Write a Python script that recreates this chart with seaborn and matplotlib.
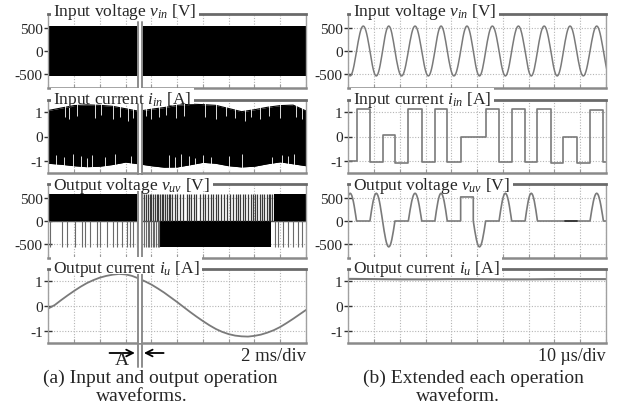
import numpy as np
import matplotlib
matplotlib.use("Agg")
import matplotlib.pyplot as plt
import matplotlib.transforms as mtransforms
from matplotlib.lines import Line2D
from matplotlib.patches import Rectangle
import seaborn as sns

sns.set_style("white")
plt.rcParams["font.family"] = ["Liberation Serif", "DejaVu Serif"]
plt.rcParams["mathtext.fontset"] = "custom"
plt.rcParams["mathtext.rm"] = "Liberation Serif"
plt.rcParams["mathtext.it"] = "Liberation Serif:italic"

# ---------------- data ----------------
panel_titles = [r"Input voltage $v_{in}$ [V]", r"Input current $i_{in}$ [A]",
                r"Output voltage $v_{uv}$ [V]", r"Output current $i_u$ [A]"]
volt_ticks = [-500, 0, 500]
curr_ticks = [-1, 0, 1]
volt_tick_labels = ["-500", "0", "500"]
curr_tick_labels = ["-1", "0", "1"]

# (a) left column, time in ms (2 ms/div)
vin_left_peak_v = 540
vin_left_trough_v = -535
iin_left_t_ms = [0, 1, 2, 3, 4, 5, 6, 7, 8, 9, 10, 11, 12, 13, 14, 15, 16, 17, 18, 19, 20]
iin_left_top = [1.07, 1.17, 1.27, 1.30, 1.28, 1.24, 1.14, 1.04, 1.12, 1.19, 1.28,
                1.33, 1.31, 1.28, 1.15, 1.02, 1.10, 1.20, 1.27, 1.29, 1.05]
iin_left_bottom = [-1.10, -1.14, -1.20, -1.24, -1.22, -1.15, -1.05, -1.12, -1.20, -1.26, -1.25,
                   -1.16, -1.06, -1.10, -1.20, -1.25, -1.22, -1.12, -1.04, -1.12, -1.20]
iin_left_gaps_top_ms = [1.3, 1.6, 2.2, 3.6, 4.1, 5.0, 5.6, 6.2, 6.6, 7.6, 8.0, 8.6, 9.1, 9.9,
                        10.5, 12.2, 13.0, 13.8, 14.5, 15.3, 15.7, 16.4, 17.1, 18.0, 19.2, 19.7]
iin_left_gaps_top_depth = [0.80, 0.70, 0.85, 0.75, 0.90, 0.70, 0.80, 0.65, 0.75, 0.85, 0.70,
                           0.80, 0.90, 0.75, 0.85, 0.80, 0.70, 0.85, 0.75, 0.65, 0.80, 0.70,
                           0.85, 0.75, 0.80, 0.70]
iin_left_gaps_bottom_ms = [0.6, 1.2, 1.9, 2.5, 3.0, 3.4, 4.4, 5.2, 6.4, 9.4, 9.8, 10.3, 10.9,
                           11.4, 12.0, 12.6, 14.0, 15.0, 17.4, 18.1, 18.6, 19.1]
iin_left_gaps_bottom_depth = [-0.75, -0.85, -0.70, -0.80, -0.90, -0.75, -0.85, -0.70, -0.80,
                              -0.75, -0.85, -0.70, -0.80, -0.90, -0.75, -0.85, -0.80, -0.70,
                              -0.85, -0.75, -0.80, -0.70]
vuv_left_pos_level = 580
vuv_left_neg_level = -560
vuv_left_pos_blocks_ms = [(0.0, 6.9), (17.5, 20.0)]
vuv_left_neg_blocks_ms = [(8.7, 17.3)]
vuv_left_pos_spikes_ms = [7.05, 7.2, 7.3, 7.45, 7.6, 7.75, 7.9, 8.0, 8.15, 8.3, 8.45, 8.55, 8.65,
                          8.8, 8.93, 9.05, 9.2, 9.33, 9.45, 9.6, 9.83, 10.0, 10.2, 10.45, 10.74,
                          10.9, 11.1, 11.3, 11.5, 11.75, 12.03, 12.2, 12.4, 12.6, 12.8, 13.0,
                          13.2, 13.4, 13.6, 13.85, 14.1, 14.36, 14.55, 14.75, 14.9, 15.1, 15.3,
                          15.5, 15.7, 15.9, 16.05, 16.2, 16.4, 16.56, 16.75, 16.95, 17.1, 17.2,
                          17.35]
vuv_left_neg_spikes_ms = [0.13, 1.04, 1.43, 2.07, 2.59, 2.85, 3.24, 3.75, 4.0, 4.53, 5.05, 5.3,
                          5.7, 6.08, 6.34, 6.6, 6.9, 7.0, 7.15, 7.3, 7.4, 7.55, 7.7, 7.8, 7.95,
                          8.1, 8.2, 8.35, 8.5, 8.6, 17.6, 17.85, 18.2, 18.6, 19.0, 19.4, 19.66]
iu_left_t_ms = [0, 0.5, 1, 1.5, 2, 2.5, 3, 3.5, 4, 4.5, 5, 5.5, 6, 6.5, 7, 7.5, 8, 8.5, 9, 9.5, 10,
                10.5, 11, 11.5, 12, 12.5, 13, 13.5, 14, 14.5, 15, 15.5, 16, 16.5, 17, 17.5, 18,
                18.5, 19, 19.5, 20]
iu_left = [-0.10, 0.04, 0.24, 0.43, 0.61, 0.78, 0.93, 1.05, 1.15, 1.22, 1.27, 1.30, 1.28, 1.22,
           1.12, 1.00, 0.87, 0.71, 0.54, 0.35, 0.16, -0.04, -0.24, -0.43, -0.61, -0.78, -0.93,
           -1.05, -1.14, -1.20, -1.23, -1.24, -1.21, -1.16, -1.08, -0.98, -0.85, -0.69, -0.52,
           -0.34, -0.16]
marker_ms = [6.94, 7.25]

# (b) right column, time in us (10 us/div): half-cycle segments of the input voltage
seg_edges_us = [-1.8, 3.2, 8.4, 13.3, 18.1, 23.3, 28.5, 33.6, 38.4, 43.6, 48.5, 53.3, 58.5,
                63.4, 68.6, 73.4, 78.6, 83.5, 88.6, 93.8, 99.0, 104.0]
hump_shape = [0.0, 0.195, 0.383, 0.556, 0.707, 0.831, 0.924, 0.981, 1.0,
              0.981, 0.924, 0.831, 0.707, 0.556, 0.383, 0.195, 0.0]
vin_seg_peak = [-540, 540, -540, 540, -540, 540, -540, 540, -540, 540, -540,
                540, -540, 540, -540, 540, -540, 540, -540, 540, -540]
vuv_seg_peak = [600, 0, 600, -560, 0, 600, 0, 600, 0, 520, -560,
                0, 600, 0, 600, 0, 0, 0, 0, 600, 0]
vuv_seg_flat = [0, 0, 0, 0, 0, 0, 0, 0, 0, 1, 0, 0, 0, 0, 0, 0, 0, 0, 0, 0, 0]
vuv_dark_span_us = [84.1, 88.6]
iin_seg = [-1.0, 1.15, -1.05, 0.05, -1.1, 1.15, -1.05, 1.15, -1.05, 0.0, -0.03,
           1.15, -1.05, 1.15, -1.05, 1.15, -1.1, 0.0, -1.1, 1.1, -1.05]
iu_right_t_us = [0, 10, 20, 30, 40, 50, 60, 70, 80, 90, 100]
iu_right = [1.10, 1.09, 1.08, 1.08, 1.09, 1.09, 1.08, 1.08, 1.09, 1.09, 1.09]

# ---------------- layout helpers ----------------
W, H = 617, 410
fig = plt.figure(figsize=(W / 100, H / 100), dpi=100)


def fx(px):
    return px / W


def fy(py):
    return 1 - py / H


col_left = [48.3, 348.3]
col_w = 257.7
rows = [(15, 89), (101, 174), (185, 259), (270, 344)]
title_base = [15.5, 103.5, 190.5, 273]
trace_c = "#7a7a7a"

axes = [[None] * 4, [None] * 4]
title_texts = []
for c in range(2):
    for r in range(4):
        top, bot = rows[r]
        ax = fig.add_axes([fx(col_left[c]), fy(bot), col_w / W, (bot - top) / H])
        axes[c][r] = ax
        if c == 0:
            ax.set_xlim(0, 20)
            ax.set_xticks(np.arange(0, 21, 2))
        else:
            ax.set_xlim(0, 100)
            ax.set_xticks(np.arange(0, 101, 10))
        if r in (0, 2):
            ax.set_ylim(-800, 800)
            ax.set_yticks(volt_ticks)
            ax.set_yticklabels(volt_tick_labels)
        else:
            ax.set_ylim(-1.5, 1.5)
            ax.set_yticks(curr_ticks)
            ax.set_yticklabels(curr_tick_labels)
        ax.set_xticklabels([])
        ax.grid(True, linestyle=(0, (1, 1.5)), color="#b5b5b5", linewidth=0.8)
        ax.set_axisbelow(True)
        ax.tick_params(axis="y", direction="inout", length=6, width=1.0, color="#333333",
                       labelsize=11, pad=1, left=True)
        ax.tick_params(axis="x", direction="in", length=3, width=0.8, color="#999999",
                       bottom=True)
        for s in ("left", "right"):
            ax.spines[s].set_color("#a0a0a0")
            ax.spines[s].set_linewidth(1.0)
        ax.spines["top"].set_color("#6a6a6a")
        ax.spines["top"].set_linewidth(2.0)
        ax.spines["bottom"].set_color("#8a8a8a")
        ax.spines["bottom"].set_linewidth(1.8)
        t = fig.text(fx(col_left[c] + 4.5), fy(title_base[r]), panel_titles[r], fontsize=12.5,
                     ha="left", va="baseline", zorder=10)
        title_texts.append((t, r))

# ---------------- (a) left column ----------------
ax = axes[0][0]
ax.fill_between([0, 20], [vin_left_trough_v] * 2, [vin_left_peak_v] * 2, color="black",
                lw=0, zorder=2)

ax = axes[0][1]
ax.fill_between(iin_left_t_ms, iin_left_bottom, iin_left_top, color="black", lw=0, zorder=2)
sns.lineplot(x=iin_left_t_ms, y=iin_left_top, ax=ax, color="black", lw=0.8,
             estimator=None, sort=False)
sns.lineplot(x=iin_left_t_ms, y=iin_left_bottom, ax=ax, color="black", lw=0.8,
             estimator=None, sort=False)
ax.vlines(iin_left_gaps_top_ms, iin_left_gaps_top_depth, 1.4, color="white", lw=0.6, zorder=3)
ax.vlines(iin_left_gaps_bottom_ms, -1.4, iin_left_gaps_bottom_depth, color="white", lw=0.6,
          zorder=3)

ax = axes[0][2]
sns.lineplot(x=[0, 20], y=[0, 0], ax=ax, color="#555555", lw=1.0, estimator=None, sort=False)
for a, b in vuv_left_pos_blocks_ms:
    ax.fill_between([a, b], [0, 0], [vuv_left_pos_level] * 2, color="black", lw=0, zorder=2)
for a, b in vuv_left_neg_blocks_ms:
    ax.fill_between([a, b], [vuv_left_neg_level] * 2, [0, 0], color="black", lw=0, zorder=2)
ax.vlines(vuv_left_pos_spikes_ms, 0, vuv_left_pos_level, color="#3a3a3a", lw=0.9, zorder=2)
ax.vlines(vuv_left_neg_spikes_ms, vuv_left_neg_level, 0, color="#6a6a6a", lw=0.8, zorder=2)

ax = axes[0][3]
sns.lineplot(x=iu_left_t_ms, y=iu_left, ax=ax, color=trace_c, lw=1.3, estimator=None, sort=False)

# marker (white gap + double gray line)
for r in range(4):
    axes[0][r].axvspan(marker_ms[0], marker_ms[1], color="white", lw=0, zorder=4)
blend = mtransforms.blended_transform_factory(axes[0][3].transData, fig.transFigure)
for m in marker_ms:
    fig.add_artist(Line2D([m, m], [fy(368), fy(23)], transform=blend, color="#8c8c8c",
                          lw=1.4, zorder=5))

# arrows and "A"
ax = axes[0][3]
ax.annotate("", xy=(6.72, 56), xycoords=("data", "figure pixels"), xytext=(4.75, 56),
            textcoords=("data", "figure pixels"), annotation_clip=False,
            arrowprops=dict(arrowstyle="->", color="black", lw=1.3, mutation_scale=12,
                            shrinkA=0, shrinkB=0))
ax.annotate("", xy=(7.42, 56), xycoords=("data", "figure pixels"), xytext=(8.95, 56),
            textcoords=("data", "figure pixels"), annotation_clip=False,
            arrowprops=dict(arrowstyle="->", color="black", lw=1.3, mutation_scale=12,
                            shrinkA=0, shrinkB=0))
fig.text(fx(122), fy(361), "A", fontsize=14, ha="center", va="center")

# ---------------- (b) right column ----------------
hump_pos = np.linspace(0, 1, len(hump_shape))
hump = np.array(hump_shape)

vx, vy = [], []
ux, uy = [], []
ix, iy = [], []
for k in range(len(vin_seg_peak)):
    a, b = seg_edges_us[k], seg_edges_us[k + 1]
    vx += list(a + (b - a) * hump_pos)
    vy += list(vin_seg_peak[k] * hump)
    if vuv_seg_flat[k]:
        ux += [a, a, b, b]
        uy += [0, vuv_seg_peak[k], vuv_seg_peak[k], 0]
    else:
        ux += list(a + (b - a) * hump_pos)
        uy += list(vuv_seg_peak[k] * hump)
    ix += [a, b]
    iy += [iin_seg[k], iin_seg[k]]

sns.lineplot(x=vx, y=vy, ax=axes[1][0], color=trace_c, lw=1.1, estimator=None, sort=False)
sns.lineplot(x=ix, y=iy, ax=axes[1][1], color=trace_c, lw=1.2, estimator=None, sort=False)
sns.lineplot(x=ux, y=uy, ax=axes[1][2], color=trace_c, lw=1.2, estimator=None, sort=False)
sns.lineplot(x=vuv_dark_span_us, y=[0, 0], ax=axes[1][2], color="#333333", lw=1.3,
             estimator=None, sort=False)
sns.lineplot(x=iu_right_t_us, y=iu_right, ax=axes[1][3], color=trace_c, lw=1.5,
             estimator=None, sort=False)

for c in range(2):
    for r in range(4):
        axes[c][r].set_xlabel("")
        axes[c][r].set_ylabel("")
        leg = axes[c][r].get_legend()
        if leg:
            leg.remove()

# ---------------- texts ----------------
fig.text(fx(306), fy(357), "2 ms/div", fontsize=13.5, ha="right", va="center")
fig.text(fx(606), fy(357), "10 \u00b5s/div", fontsize=13, ha="right", va="center")
fig.text(fx(160), fy(378), "(a) Input and output operation", fontsize=14, ha="center",
         va="center")
fig.text(fx(142), fy(397), "waveforms.", fontsize=14, ha="center", va="center")
fig.text(fx(473), fy(378), "(b) Extended each operation", fontsize=14, ha="center",
         va="center")
fig.text(fx(458), fy(397), "waveform.", fontsize=14, ha="center", va="center")

# white masks behind the panel titles (hide frame line and marker, not the traces)
fig.canvas.draw()
renderer = fig.canvas.get_renderer()
for t, r in title_texts:
    bb = t.get_window_extent(renderer)
    x0 = bb.x0 - 2
    x1 = bb.x1 + 3
    y_base_px = H - title_base[r]
    y0 = y_base_px - 1.5
    y1 = bb.y1 + 1
    fig.add_artist(Rectangle((x0 / W, y0 / H), (x1 - x0) / W, (y1 - y0) / H,
                             transform=fig.transFigure, fc="white", ec="none", zorder=8))

fig.savefig("out.png", dpi=100)
